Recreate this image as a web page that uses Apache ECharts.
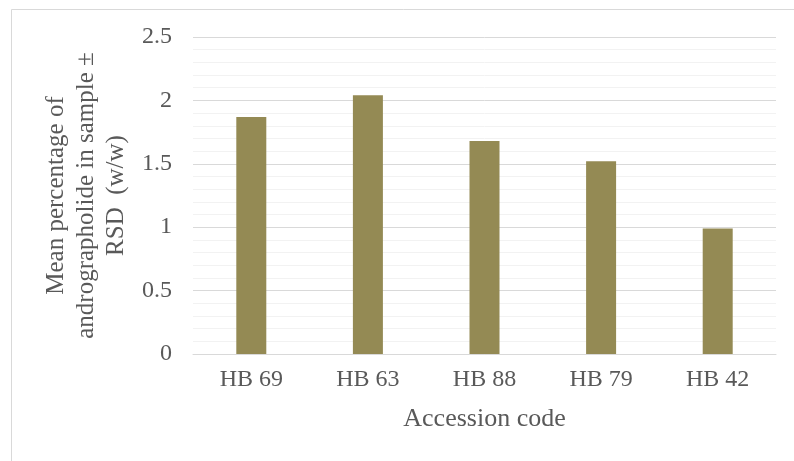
<!DOCTYPE html>
<html>
<head>
<meta charset="utf-8">
<script src="https://cdn.jsdelivr.net/npm/echarts@6/dist/echarts.min.js"></script>
<style>html,body{margin:0;padding:0;background:#fff;}#c{width:794px;height:461px;}</style>
</head>
<body>
<div id="c"></div>
<script>
const categories = ['HB 69', 'HB 63', 'HB 88', 'HB 79', 'HB 42'];
const values = [1.87, 2.04, 1.68, 1.52, 0.99];
const yTicks = [0, 0.5, 1, 1.5, 2, 2.5];

const font = '"Liberation Serif", "Times New Roman", serif';
const chart = echarts.init(document.getElementById('c'), null, {renderer: 'canvas'});
chart.setOption({
  animation: false,
  backgroundColor: '#fff',
  graphic: [{
    type: 'rect', left: 9, top: 7, shape: {width: 900, height: 600},
    style: {fill: 'none', stroke: '#d9d9d9', lineWidth: 1}, z: -1
  }],
  grid: {left: 193, right: 18, top: 37, bottom: 107},
  xAxis: {
    type: 'category', data: categories,
    axisLine: {lineStyle: {color: '#d9d9d9', width: 1}},
    axisTick: {show: false},
    axisLabel: {color: '#595959', fontFamily: font, fontSize: 24, margin: 14},
    name: 'Accession code', nameLocation: 'middle', nameGap: 52,
    nameTextStyle: {color: '#595959', fontFamily: font, fontSize: 26}
  },
  yAxis: {
    type: 'value', min: yTicks[0], max: yTicks[yTicks.length - 1], interval: 0.5,
    axisLine: {show: false}, axisTick: {show: false},
    axisLabel: {color: '#595959', fontFamily: font, fontSize: 24, margin: 21,
      formatter: v => String(v)},
    splitLine: {lineStyle: {color: '#d9d9d9', width: 1}},
    minorTick: {show: false, splitNumber: 5},
    minorSplitLine: {show: true, lineStyle: {color: '#f2f2f2', width: 1}},
    name: 'Mean percentage of\nandrographolide in sample \u00b1\nRSD  (w/w)',
    nameLocation: 'middle', nameGap: 58,
    nameTextStyle: {color: '#595959', fontFamily: font, fontSize: 25, lineHeight: 30}
  },
  series: [{
    type: 'bar', data: values, barWidth: 30,
    itemStyle: {color: '#948a54'}
  }]
});
</script>
</body>
</html>
